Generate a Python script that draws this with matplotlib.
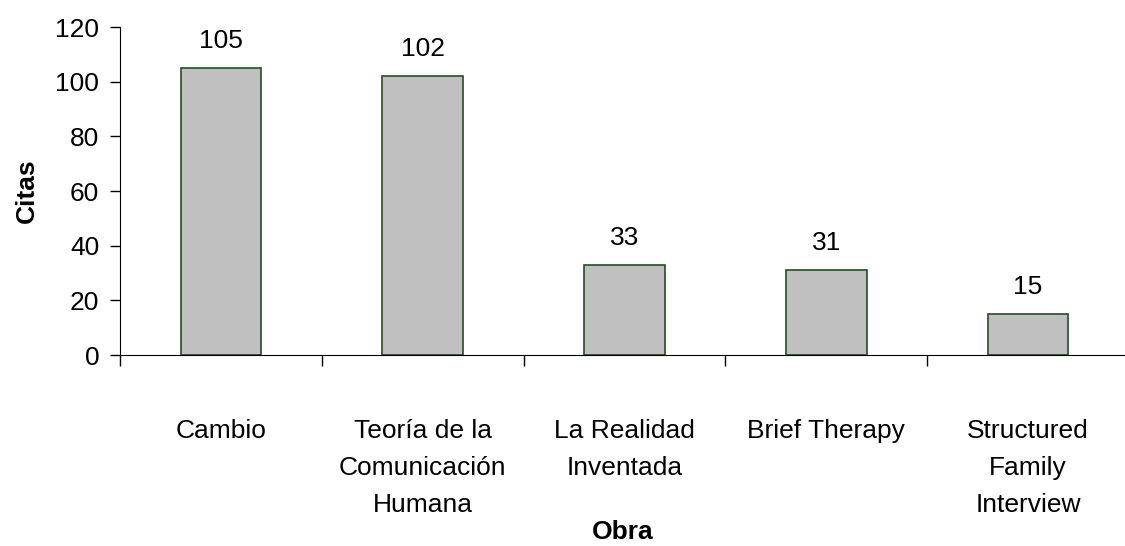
import matplotlib
matplotlib.use("Agg")
import matplotlib.pyplot as plt
import numpy as np

plt.rcParams['font.family'] = ['Liberation Sans', 'DejaVu Sans']

# datos de la grafica
obras = ["Cambio", "Teoría de la\nComunicación\nHumana", "La Realidad\nInventada",
         "Brief Therapy", "Structured\nFamily\nInterview"]
citas = [105, 102, 33, 31, 15]
yticks = [0, 20, 40, 60, 80, 100, 120]

fs = 19

fig = plt.figure(figsize=(11.25, 5.46), dpi=100)
ax = fig.add_axes([0.1067, 0.3498, 0.8933 * 1.004, 0.6007])

x = np.arange(len(obras))
ax.bar(x, citas, width=0.4, color="#c0c0c0", edgecolor="#254d25", linewidth=1.2, zorder=2)

#etiquetas de valor encima de cada barra
for xi, v in zip(x, citas):
    ax.annotate(str(v), (xi, v), xytext=(0, 11), textcoords="offset points",
                ha="center", va="bottom", fontsize=fs)

ax.set_xlim(-0.5, len(obras) - 0.5)
ax.set_ylim(0, 120)
ax.set_yticks(yticks)
ax.tick_params(axis="y", length=7, width=1, labelsize=fs, pad=8)

#marcas en los limites de cada categoria, etiquetas en el centro
ax.set_xticks(np.arange(len(obras) + 1) - 0.5)
ax.set_xticklabels([])
ax.tick_params(axis="x", which="major", length=8, width=1)
ax.set_xticks(x, minor=True)
ax.set_xticklabels(obras, minor=True, fontsize=fs, linespacing=1.68, va="top")
ax.tick_params(axis="x", which="minor", length=0, pad=46)

ax.spines["top"].set_visible(False)
ax.spines["right"].set_visible(False)

ax.set_ylabel("Citas", fontsize=fs, fontweight="bold", labelpad=12)
fig.text(0.5 * (0.1067 + 1.0), 1 - 532 / 546, "Obra", fontsize=fs,
         fontweight="bold", ha="center", va="center")

fig.savefig("out.png", dpi=100)
